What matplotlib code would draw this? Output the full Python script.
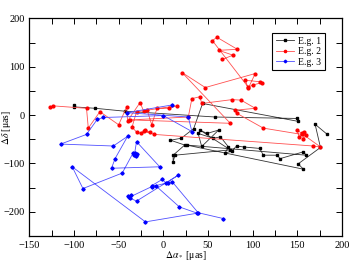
import numpy as np
import matplotlib
matplotlib.use("Agg")
from matplotlib import pyplot as plt
from matplotlib.ticker import MultipleLocator

plt.rcParams['font.family'] = ['Liberation Serif', 'DejaVu Serif']
plt.rcParams['mathtext.fontset'] = 'stix'

# E.g. 1 (black)
eg1_x = [-100, -100, -76, -43, 58, 150, 151, 44, 34, 20, 8, 24, 11, 11, 13, 75,
         41, 49, 62, 43, 39, 56, 64, 73, 69, 77, 82, 90, 108, 112, 127, 131,
         157, 160, 26, 157, 151, 176, 170, 183]
eg1_y = [21, 17, 14, 8, -4, -7, -13, 24, -28, -48, -52, -62, -83, -97, -83, -72,
         -31, -38, -31, -65, -38, -48, -45, -66, -79, -74, -64, -66, -69, -83, -83, -90,
         -76, -83, -62, -112, -101, -67, -19, -39]

# E.g. 2 (red)
eg2_x = [-127, -123, -86, -84, -71, -50, -41, -40, -26, -22, -18, -13, -7, 6, 15,
         -30, -35, -30, -25, -20, -15, -22, -10, 168, 176, 155, 150, 152, 158, 156,
         160, 155, 112, 82, 80, 103, 87, 77, 43, 41, 32, 28, -37, 75, 21, 47, 103,
         95, 92, 108, 110, 100, 95, 55, 60, 83, 62, 78, 66]
eg2_y = [16, 19, 14, -27, 7, -20, 17, -12, 26, 8, 10, -20, 14, 14, 19,
         7, -25, -35, -38, -30, -36, -33, -40, -64, -66, -38, -31, -45, -35, -50,
         -42, -40, -27, 4, 10, 14, 31, 32, 24, 38, 34, -4, -10, -17, 88, 57, 86,
         55, 72, 69, 67, 62, 58, 154, 161, 136, 134, 124, 115]

# E.g. 3 (blue)
eg3_x = [10, -41, 28, 32, 0, -67, -74, -86, -115, -56, -40, -54, -58, -4, -30,
         -32, -30, -33, -31, -34, -46, -90, -102, -20, 38, 18, -8, -13, -1, 3, 17,
         -30, -37, -39, -36, -38, -13, 5, 10, 39, 67]
eg3_y = [21, 5, -4, -34, -1, -5, -9, -40, -60, -64, -44, -90, -110, -107, -55,
         -78, -80, -82, -84, -79, -120, -152, -107, -221, -203, -190, -147, -146, -133, -141, -124,
         -178, -172, -168, -166, -170, -148, -140, -138, -202, -214]

series = [(eg1_x, eg1_y, 'black', '#333333', 's', 'E.g. 1'),
          (eg2_x, eg2_y, '#ff0000', '#ff5050', 'o', 'E.g. 2'),
          (eg3_x, eg3_y, '#0000ff', '#5050ff', 'D', 'E.g. 3')]

fig = plt.figure(figsize=(3.58, 2.63), dpi=100)
ax = fig.add_axes([0.082, 0.103, 0.873, 0.827])

for xs, ys, mc, lc, mk, lab in series:
    ax.plot(xs, ys, color=lc, lw=0.6, marker=mk, ms=2.0 if mk != 'D' else 1.7,
            mfc=mc, mec=mc, label=lab)

ax.set_xlim(-150, 200)
ax.set_ylim(-250, 200)
ax.xaxis.set_major_locator(MultipleLocator(50))
ax.xaxis.set_minor_locator(MultipleLocator(25))
ax.yaxis.set_major_locator(MultipleLocator(100))
ax.yaxis.set_minor_locator(MultipleLocator(50))
ax.tick_params(which='both', direction='in', top=True, right=True, labelsize=7.5,
               width=0.7)
ax.tick_params(which='major', length=4)
ax.tick_params(which='minor', length=4)
for sp in ax.spines.values():
    sp.set_linewidth(0.9)

ax.set_xlabel(r'$\Delta\alpha_*$ [μas]', fontsize=7)
ax.set_ylabel(r'$\Delta\delta$ [μas]', fontsize=7)
ax.xaxis.set_label_coords(0.5, -0.062)
ax.yaxis.set_label_coords(-0.052, 0.5)

leg = ax.legend(loc='upper right', bbox_to_anchor=(0.945, 0.932), borderaxespad=0,
                fontsize=7, fancybox=False, edgecolor='black', framealpha=1,
                handlelength=1.9, handletextpad=0.4, borderpad=0.35,
                labelspacing=0.15, markerscale=0.8)
leg.get_frame().set_linewidth(0.8)

fig.savefig('out.png', dpi=100)
